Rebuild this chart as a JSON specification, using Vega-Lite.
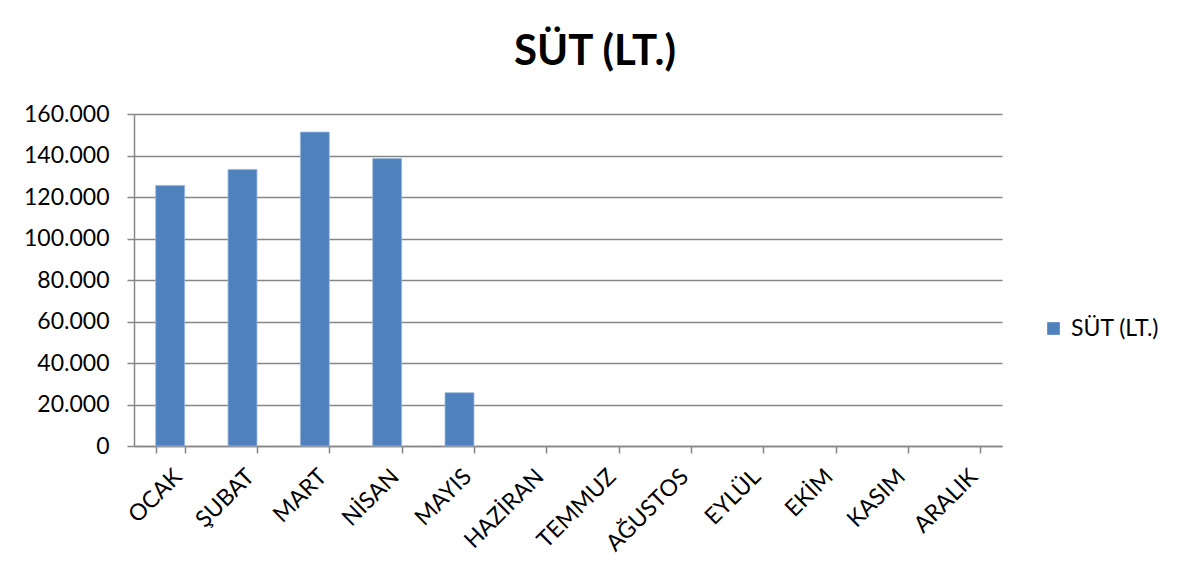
{
  "$schema": "https://vega.github.io/schema/vega-lite/v6.json",
  "width": 868,
  "height": 332,
  "autosize": {"type": "none"},
  "padding": {"left": 134, "top": 114, "right": 194, "bottom": 133},
  "background": "white",
  "config": {
    "locale": {"number": {"decimal": ",", "thousands": ".", "grouping": [3], "currency": ["", " TL"]}},
    "view": {"stroke": null},
    "font": "Lato"
  },
  "title": {
    "text": "SÜT (LT.)",
    "font": "Lato",
    "fontSize": 42,
    "fontWeight": "bold",
    "color": "#000000",
    "anchor": "middle",
    "dx": 27,
    "offset": 29
  },
  "data": {
    "values": [
      {"ay": "OCAK", "seri": "SÜT (LT.)", "deger": 125600},
      {"ay": "ŞUBAT", "seri": "SÜT (LT.)", "deger": 133300},
      {"ay": "MART", "seri": "SÜT (LT.)", "deger": 151300},
      {"ay": "NİSAN", "seri": "SÜT (LT.)", "deger": 138500},
      {"ay": "MAYIS", "seri": "SÜT (LT.)", "deger": 25700},
      {"ay": "HAZİRAN", "seri": "SÜT (LT.)", "deger": null},
      {"ay": "TEMMUZ", "seri": "SÜT (LT.)", "deger": null},
      {"ay": "AĞUSTOS", "seri": "SÜT (LT.)", "deger": null},
      {"ay": "EYLÜL", "seri": "SÜT (LT.)", "deger": null},
      {"ay": "EKİM", "seri": "SÜT (LT.)", "deger": null},
      {"ay": "KASIM", "seri": "SÜT (LT.)", "deger": null},
      {"ay": "ARALIK", "seri": "SÜT (LT.)", "deger": null}
    ]
  },
  "mark": {"type": "bar", "stroke": "#9bb8dc", "strokeWidth": 0.8},
  "encoding": {
    "x": {
      "field": "ay",
      "type": "nominal",
      "sort": null,
      "scale": {
        "domain": ["OCAK", "ŞUBAT", "MART", "NİSAN", "MAYIS", "HAZİRAN", "TEMMUZ", "AĞUSTOS", "EYLÜL", "EKİM", "KASIM", "ARALIK"],
        "paddingInner": 0.6,
        "paddingOuter": 0.3
      },
      "axis": {
        "title": null,
        "labelAngle": -45,
        "labelFont": "Lato",
        "labelFontSize": 23,
        "labelColor": "#000000",
        "labelPadding": 12,
        "tickBand": "extent",
        "tickSize": 7,
        "tickColor": "#868686",
        "tickWidth": 1.5,
        "domainColor": "#868686",
        "domainWidth": 1.5,
        "grid": false
      }
    },
    "y": {
      "field": "deger",
      "type": "quantitative",
      "scale": {"domain": [0, 160000], "nice": false},
      "axis": {
        "title": null,
        "values": [0, 20000, 40000, 60000, 80000, 100000, 120000, 140000, 160000],
        "format": ",.0f",
        "labelFont": "Lato",
        "labelFontSize": 23,
        "labelColor": "#000000",
        "labelPadding": 18,
        "tickSize": 7,
        "tickColor": "#868686",
        "tickWidth": 1.5,
        "domainColor": "#868686",
        "domainWidth": 1.5,
        "grid": true,
        "gridColor": "#868686",
        "gridWidth": 1.5
      }
    },
    "color": {
      "field": "seri",
      "type": "nominal",
      "scale": {"range": ["#4f81bd"]},
      "legend": {
        "title": null,
        "orient": "none",
        "legendX": 908,
        "legendY": 203,
        "symbolType": "square",
        "symbolSize": 160,
        "symbolStrokeWidth": 0,
        "labelFont": "Lato",
        "labelFontSize": 23,
        "labelColor": "#000000",
        "labelOffset": 6
      }
    }
  }
}
